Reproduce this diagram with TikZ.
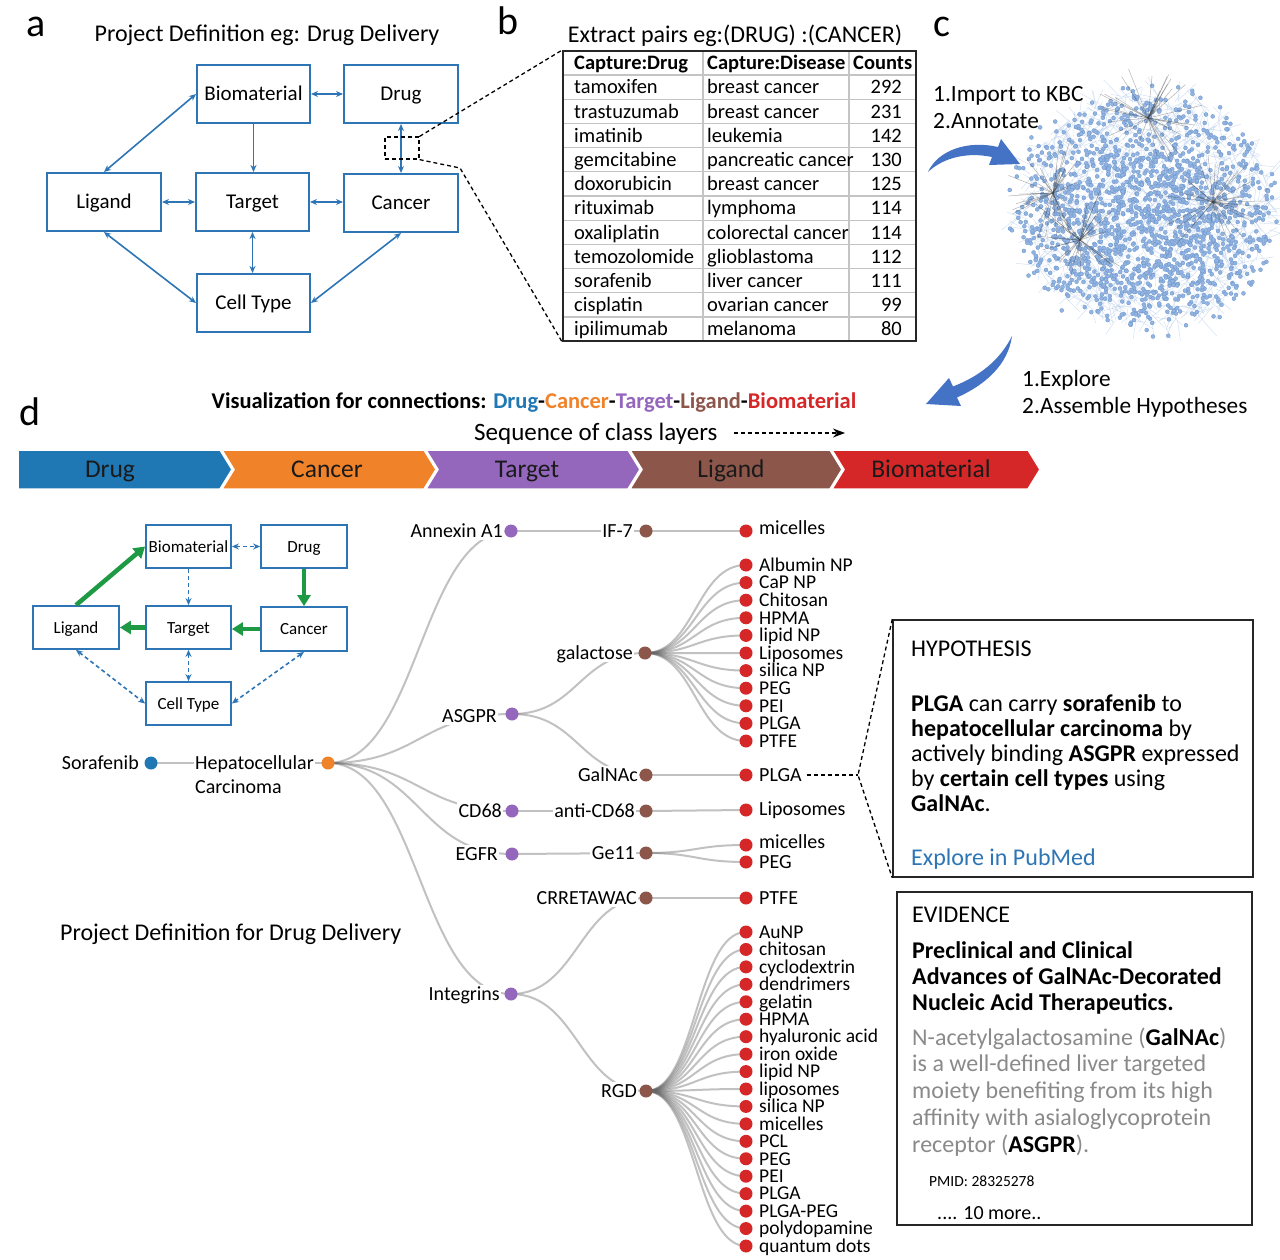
\documentclass[tikz,border=0pt]{standalone}
\usepackage{fontspec}
\setmainfont{Carlito}
\usetikzlibrary{arrows.meta}
\definecolor{boxblue}{HTML}{2E75B6}
\definecolor{cDrug}{HTML}{1F77B4}
\definecolor{cCancer}{HTML}{F0822A}
\definecolor{cTarget}{HTML}{9467BD}
\definecolor{cLigand}{HTML}{8C564B}
\definecolor{cBio}{HTML}{D62728}
\definecolor{arrowblue}{HTML}{4472C4}
\definecolor{gArrow}{HTML}{1E9A44}
\definecolor{evgray}{HTML}{8A8A8A}
\definecolor{tblgray}{HTML}{C4C4C4}
\definecolor{netdot}{HTML}{93B4E0}
\definecolor{netdotline}{HTML}{6A95CE}
\definecolor{netedge}{HTML}{B9CFEC}
\definecolor{pubblue}{HTML}{2E75B6}
\definecolor{chevtext}{HTML}{1A1A1A}
\tikzset{
 f25/.style={inner sep=0pt, font=\fontsize{25.5}{28}\selectfont, text height=16.4pt, text depth=0pt},
 f24/.style={inner sep=0pt, font=\fontsize{24}{26}\selectfont, text height=15.4pt, text depth=0pt},
 f23/.style={inner sep=0pt, font=\fontsize{23.3}{25}\selectfont, text height=15pt, text depth=0pt},
 f22/.style={inner sep=0pt, font=\fontsize{22.5}{25}\selectfont, text height=14.5pt, text depth=0pt},
 f21/.style={inner sep=0pt, font=\fontsize{21}{23}\selectfont, text height=13.5pt, text depth=0pt},
 f20/.style={inner sep=0pt, font=\fontsize{20}{22}\selectfont, text height=12.9pt, text depth=0pt},
 leaf/.style={inner sep=0pt, font=\fontsize{19.5}{21}\selectfont, text height=12.5pt, text depth=0pt},
 f17/.style={inner sep=0pt, font=\fontsize{17}{19}\selectfont, text height=11pt, text depth=0pt},
 f15/.style={inner sep=0pt, font=\fontsize{15.5}{17}\selectfont, text height=10pt, text depth=0pt},
 big/.style={inner sep=0pt, font=\fontsize{40}{44}\selectfont},
 abox/.style={draw=boxblue, line width=2pt, f21, minimum width=113, minimum height=58},
 sbox/.style={draw=boxblue, line width=1.8pt, f17, minimum width=85, minimum height=43},
 barrow/.style={draw=boxblue, line width=1.6pt, {Stealth[length=7pt,width=6pt]}-{Stealth[length=7pt,width=6pt]}},
 barrowone/.style={draw=boxblue, line width=1.6pt, -{Stealth[length=7pt,width=6pt]}},
 dbarrow/.style={barrow, dash pattern=on 4pt off 3pt},
 dbarrowone/.style={barrowone, dash pattern=on 4pt off 3pt},
 garrow/.style={draw=gArrow, line width=4.5pt, -{Triangle[length=11pt,width=13pt]}},
 lnk/.style={draw=black!60, draw opacity=0.4, line width=2pt},
 tdot/.style={circle, fill=#1, inner sep=0pt, minimum size=13pt},
 mask/.style={fill=white, inner xsep=1.5pt, inner ysep=3pt},
 callout/.style={draw=black, line width=1.3pt, dash pattern=on 4pt off 3pt},
 chev/.style={fill=#1, draw=white, line width=1.5pt},
}
\newcommand\treelink[3]{\draw[lnk] (#1) .. controls +(#3,0) and +(-#3,0) .. (#2);}
\begin{document}
\begin{tikzpicture}[x=1pt,y=-1pt]
\useasboundingbox (0,0) rectangle (1280,1260);
\fill[white] (0,0) rectangle (1280,1260);

% ---------- panel labels
\node[big, anchor=base] (la) at (36,37) {a};
\node[big, anchor=base] (lb) at (508,35) {b};
\node[big, anchor=base] (lc) at (942,37) {c};
\node[big, anchor=base] (ld) at (30,425) {d};

% ---------- panel a
\node[f24] (ta) at (267,34) {Project Definition eg: Drug Delivery};
\node[abox] (bio) at (253.5,94) {Biomaterial};
\node[abox, minimum width=114] (drug) at (401,94) {Drug};
\node[abox, minimum width=114] (lig) at (104,202) {Ligand};
\node[abox] (tgt) at (252.5,202) {Target};
\node[abox, minimum width=114] (can) at (401,203) {Cancer};
\node[abox] (cell) at (253.5,303) {Cell Type};
\draw[barrow] (bio.east) -- (drug.west);
\draw[barrowone] (bio.south) -- (bio.south |- tgt.north);
\draw[barrow] (drug.south) -- (can.north);
\draw[barrow] (lig.east) -- (tgt.west);
\draw[barrow] (tgt.east) -- (tgt.east -| can.west);
\draw[barrow] (tgt.south) -- (tgt.south |- cell.north);
\draw[barrow] (lig.north) -- (bio.west);
\draw[barrow] (lig.south) -- (cell.west);
\draw[barrow] (can.south) -- (cell.east);
\node[callout, draw, minimum width=34, minimum height=22, inner sep=0] (zr) at (402,148) {};

% ---------- panel b
\node[f24] (tb) at (735,35) {Extract pairs eg:(DRUG) :(CANCER)};
\foreach \k in {0,...,10}{
  \draw[tblgray, line width=1.2pt] (563,{75+24.2*\k}) -- (916,{75+24.2*\k});
}
\draw[tblgray, line width=1.2pt] (703,51) -- (703,341);
\draw[tblgray, line width=1.2pt] (849,51) -- (849,341);
\node[draw=black!85, line width=1.8pt, minimum width=353, minimum height=290, inner sep=0] (tbl) at (739.5,196) {};
\node[f21, anchor=west, font=\fontsize{20.5}{22}\selectfont\bfseries] (h1) at (574,63) {Capture:Drug};
\node[f21, anchor=west, font=\fontsize{20.5}{22}\selectfont\bfseries] (h2) at (707,63) {Capture:Disease};
\node[f21, anchor=west, font=\fontsize{20.5}{22}\selectfont\bfseries] (h3) at (853,63) {Counts};
\foreach \a/\b/\c [count=\k from 0] in {tamoxifen/breast cancer/292, trastuzumab/breast cancer/231, imatinib/leukemia/142, gemcitabine/pancreatic cancer/130, doxorubicin/breast cancer/125, rituximab/lymphoma/114, oxaliplatin/colorectal cancer/114, temozolomide/glioblastoma/112, sorafenib/liver cancer/111, cisplatin/ovarian cancer/99, ipilimumab/melanoma/80}{
  \node[f21, font=\fontsize{20.5}{22}\selectfont, anchor=west] (ra\k) at (574,{87.1+24.2*\k}) {\a};
  \node[f21, font=\fontsize{20.5}{22}\selectfont, anchor=west] (rb\k) at (707,{87.1+24.2*\k}) {\b};
  \node[f21, font=\fontsize{20.5}{22}\selectfont, anchor=east] (rc\k) at (902,{87.1+24.2*\k}) {\c};
}
\coordinate (bend) at (460,168);
\draw[callout] (zr.north east) -- (tbl.north west);
\draw[callout] (zr.south east) -- (bend) -- (tbl.south west);

% ---------- panel c : network
\begin{scope}
\pgfmathsetseed{4242}
\foreach \k in {1,...,1300}{
  \pgfmathsetmacro\rr{sqrt(rnd)}
  \pgfmathsetmacro\aa{360*rnd}
  \pgfmathsetmacro\dx{44*(rnd-0.5)}
  \pgfmathsetmacro\dy{44*(rnd-0.5)}
  \draw[netedge, line width=0.4pt, opacity=0.7] ({1146+126*\rr*cos(\aa)},{210+116*\rr*sin(\aa)}) -- ++(\dx,\dy);
}
\foreach \k in {1,...,1100}{
  \pgfmathsetmacro\rr{sqrt(rnd)}
  \pgfmathsetmacro\aa{360*rnd}
  \filldraw[fill=netdot, draw=netdotline, line width=0.3pt] ({1146+124*\rr*cos(\aa)},{210+114*\rr*sin(\aa)}) circle (2pt);
}
\foreach \k in {1,...,600}{
  \pgfmathsetmacro\rr{sqrt(rnd)}
  \pgfmathsetmacro\aa{360*rnd}
  \filldraw[fill=netdot, draw=netdotline, line width=0.3pt] ({1140+95*\rr*cos(\aa)},{225+75*\rr*sin(\aa)}) circle (2pt);
}
\foreach \k in {1,...,90}{
  \pgfmathsetmacro\rr{0.95+0.15*rnd}
  \pgfmathsetmacro\aa{360*rnd}
  \filldraw[fill=netdot, draw=netdotline, line width=0.3pt] ({1146+126*\rr*cos(\aa)},{210+118*\rr*sin(\aa)}) circle (2pt);
}
\foreach \hx/\hy in {1053/193, 1213/202, 1080/240, 1148/118}{
  \foreach \k in {1,...,34}{
    \pgfmathsetmacro\aa{360*rnd}
    \pgfmathsetmacro\rr{12+45*rnd}
    \draw[black!75, opacity=0.4, line width=0.5pt] (\hx,\hy) -- ++({\rr*cos(\aa)},{\rr*sin(\aa)});
  }
}
\end{scope}
\node[f23, anchor=west] (imp1) at (933,94.5) {1.Import to KBC};
\node[f23, anchor=west] (imp2) at (933,121.5) {2.Annotate};
\node[f23, anchor=west] (exp1) at (1022,379) {1.Explore};
\node[f23, anchor=west] (exp2) at (1022,406) {2.Assemble Hypotheses};
\fill[arrowblue] (928,172) .. controls (938,150) and (968,140) .. (998,147) -- (1001,139) -- (1020,164) -- (989,165) -- (992,157) .. controls (968,152) and (944,157) .. (928,172) -- cycle;
\fill[arrowblue] (1012,336) .. controls (1008,365) and (985,385) .. (957,397.5) -- (961,406) -- (926,404) -- (949,378) -- (953,386.5) .. controls (980,376) and (1000,360) .. (1012,336) -- cycle;

% ---------- panel d header
\node[f22, font=\fontsize{22.5}{25}\selectfont\bfseries] (vis) at (534,401) {Visualization for connections: \textcolor{cDrug}{Drug}-\textcolor{cCancer}{Cancer}-\textcolor{cTarget}{Target}-\textcolor{cLigand}{Ligand}-\textcolor{cBio}{Biomaterial}};
\node[f25, font=\fontsize{25}{27}\selectfont, anchor=west] (seq) at (474,432) {Sequence of class layers};
\coordinate (seqend) at (845,433);
\draw[black, line width=1.3pt, dash pattern=on 4pt off 3pt, -{Stealth[length=12pt,width=9pt]}] (seq.east) ++(16,1) -- (seqend);

\fill[chev=cDrug] (18,450) -- (220,450) -- (232,469.5) -- (220,489) -- (18,489) -- cycle;
\fill[chev=cCancer] (222,450) -- (424,450) -- (436,469.5) -- (424,489) -- (222,489) -- (234,469.5) -- cycle;
\fill[chev=cTarget] (426,450) -- (628,450) -- (640,469.5) -- (628,489) -- (426,489) -- (438,469.5) -- cycle;
\fill[chev=cLigand] (630,450) -- (830,450) -- (842,469.5) -- (830,489) -- (630,489) -- (642,469.5) -- cycle;
\fill[chev=cBio] (832,450) -- (1028,450) -- (1040,469.5) -- (1028,489) -- (832,489) -- (844,469.5) -- cycle;
\draw[chev=cDrug] (18,450) -- (220,450) -- (232,469.5) -- (220,489) -- (18,489) -- cycle;
\draw[chev=cCancer] (222,450) -- (424,450) -- (436,469.5) -- (424,489) -- (222,489) -- (234,469.5) -- cycle;
\draw[chev=cTarget] (426,450) -- (628,450) -- (640,469.5) -- (628,489) -- (426,489) -- (438,469.5) -- cycle;
\draw[chev=cLigand] (630,450) -- (830,450) -- (842,469.5) -- (830,489) -- (630,489) -- (642,469.5) -- cycle;
\draw[chev=cBio] (832,450) -- (1028,450) -- (1040,469.5) -- (1028,489) -- (832,489) -- (844,469.5) -- cycle;
\node[f25, text=chevtext] (cv1) at (110,469) {Drug};
\node[f25, text=chevtext] (cv2) at (327,469) {Cancer};
\node[f25, text=chevtext] (cv3) at (527,469) {Target};
\node[f25, text=chevtext] (cv4) at (731,469) {Ligand};
\node[f25, text=chevtext] (cv5) at (931,469) {Biomaterial};

% ---------- panel d small schema
\node[sbox] (sbio) at (188.5,546.5) {Biomaterial};
\node[sbox, minimum width=86] (sdrug) at (304,546.5) {Drug};
\node[sbox, minimum width=86] (slig) at (76,627.5) {Ligand};
\node[sbox] (stgt) at (188.5,627.5) {Target};
\node[sbox, minimum width=86, minimum height=44] (scan) at (304,629) {Cancer};
\node[sbox] (scell) at (188.5,703.5) {Cell Type};
\draw[dbarrow] (sbio.east) -- (sdrug.west);
\draw[dbarrowone] (sbio.south) -- (stgt.north);
\draw[dbarrow] (stgt.south) -- (scell.north);
\draw[dbarrow] (slig.south) -- (scell.west);
\draw[dbarrow] (scan.south) -- (scell.east);
\draw[garrow] (sdrug.south) -- (scan.north);
\draw[garrow] (scan.west) -- (scan.west -| stgt.east);
\draw[garrow] (stgt.west) -- (slig.east);
\draw[garrow] (slig.north) -- (sbio.west);

\node[f24, anchor=west] (pd) at (60,933) {Project Definition for Drug Delivery};

% ---------- tree
\coordinate (sor) at (151,763);
\coordinate (hcc) at (328,763);
\coordinate (anx) at (511,531);
\coordinate (asg) at (512,714);
\coordinate (cd68) at (512,811);
\coordinate (egfr) at (512,854);
\coordinate (itg) at (511,994);
\coordinate (if7) at (646,531);
\coordinate (gal) at (645,653);
\coordinate (gnac) at (646,775);
\coordinate (acd) at (646,811);
\coordinate (ge11) at (646,853);
\coordinate (crr) at (646,898);
\coordinate (rgd) at (646,1091);
\coordinate (mic1) at (746,531);
\coordinate (plga1) at (746,775);
\coordinate (lip1) at (746,810);
\coordinate (mic2) at (746,845);
\coordinate (peg2) at (746,862);
\coordinate (ptfe2) at (746,898);

\draw[lnk] (sor) -- (hcc);
\treelink{hcc}{anx}{91}
\treelink{hcc}{asg}{92}
\treelink{hcc}{cd68}{92}
\treelink{hcc}{egfr}{92}
\treelink{hcc}{itg}{91}
\treelink{anx}{if7}{67}
\treelink{asg}{gal}{66}
\treelink{asg}{gnac}{67}
\treelink{cd68}{acd}{67}
\treelink{egfr}{ge11}{67}
\treelink{itg}{crr}{67}
\treelink{itg}{rgd}{67}
\treelink{if7}{mic1}{50}
\treelink{gnac}{plga1}{50}
\treelink{acd}{lip1}{50}
\treelink{ge11}{mic2}{50}
\treelink{ge11}{peg2}{50}
\treelink{crr}{ptfe2}{50}

\foreach \t [count=\i from 0] in {Albumin NP, CaP NP, Chitosan, HPMA, lipid NP, Liposomes, silica NP, PEG, PEI, PLGA, PTFE}{
  \pgfmathsetmacro\yy{565+17.6*\i}
  \coordinate (ga\i) at (746,\yy);
  \treelink{gal}{ga\i}{50}
  \node[tdot=cBio] (gad\i) at (ga\i) {};
  \node[leaf, anchor=west] (gal\i) at (759,\yy) {\t};
}
\foreach \t [count=\i from 0] in {AuNP, chitosan, cyclodextrin, dendrimers, gelatin, HPMA, hyaluronic acid, iron oxide, lipid NP, liposomes, silica NP, micelles, PCL, PEG, PEI, PLGA, PLGA-PEG, polydopamine, quantum dots}{
  \pgfmathsetmacro\yy{932+17.444*\i}
  \coordinate (rg\i) at (746,\yy);
  \treelink{rgd}{rg\i}{50}
  \node[tdot=cBio] (rgdd\i) at (rg\i) {};
  \node[leaf, anchor=west] (rgl\i) at (759,\yy) {\t};
}

\node[tdot=cDrug] (dsor) at (sor) {};
\node[tdot=cCancer] (dhcc) at (hcc) {};
\foreach \n in {anx,asg,cd68,egfr,itg}{ \node[tdot=cTarget] (d\n) at (\n) {}; }
\foreach \n in {if7,gal,gnac,acd,ge11,crr,rgd}{ \node[tdot=cLigand] (d\n) at (\n) {}; }
\foreach \n in {mic1,plga1,lip1,mic2,peg2,ptfe2}{ \node[tdot=cBio] (d\n) at (\n) {}; }

\node[f20, anchor=east] (lsor) at (139,763) {Sorafenib};
\node[f20, mask, anchor=west] (lhcc) at (193.5,763) {Hepatocellular};
\node[f20, anchor=west] (lcar) at (195,787) {Carcinoma};
\node[f20, mask, anchor=east] (lanx) at (504.5,531) {Annexin A1};
\node[f20, mask, anchor=east] (lasg) at (498.5,716) {ASGPR};
\node[f20, mask, anchor=east] (lcd68) at (503.5,811) {CD68};
\node[f20, mask, anchor=east] (legfr) at (499.5,854) {EGFR};
\node[f20, mask, anchor=east] (litg) at (501.5,994) {Integrins};
\node[f20, mask, anchor=east] (lif7) at (634.5,531) {IF-7};
\node[f20, mask, anchor=east] (lgal) at (634.5,653) {galactose};
\node[f20, mask, anchor=east] (lgnac) at (639.5,775) {GalNAc};
\node[f20, mask, anchor=east] (lacd) at (636.5,811) {anti-CD68};
\node[f20, mask, anchor=east] (lge11) at (636.5,853) {Ge11};
\node[f20, mask, anchor=east] (lcrr) at (638.5,898) {CRRETAWAC};
\node[f20, mask, anchor=east] (lrgd) at (638.5,1091) {RGD};
\node[f20, anchor=west] (lmic1) at (759,528) {micelles};
\node[f20, anchor=west] (lplga1) at (759,775) {PLGA};
\node[f20, anchor=west] (llip1) at (759,809) {Liposomes};
\node[f20, anchor=west] (lmic2) at (759,842) {micelles};
\node[f20, anchor=west] (lpeg2) at (759,862) {PEG};
\node[f20, anchor=west] (lptfe2) at (759,898) {PTFE};

% ---------- hypothesis box
\node[draw=black!85, line width=1.5pt, minimum width=360, minimum height=257, inner sep=0] (hyp) at (1073,748.5) {};
\coordinate (brk) at (858,775);
\draw[callout, shorten <=5pt] (lplga1.east) -- (brk);
\draw[callout] (hyp.north west) -- (brk) -- (hyp.south west);
\node[f24, anchor=west] (hy0) at (911,649) {HYPOTHESIS};
\node[f24, anchor=west] (hy1) at (911,704) {\textbf{PLGA} can carry \textbf{sorafenib} to};
\node[f24, anchor=west] (hy2) at (911,729) {\textbf{hepatocellular carcinoma} by};
\node[f24, anchor=west] (hy3) at (911,754) {actively binding \textbf{ASGPR} expressed};
\node[f24, anchor=west] (hy4) at (911,779) {by \textbf{certain cell types} using};
\node[f24, anchor=west] (hy5) at (911,804) {\textbf{GalNAc}.};
\node[f24, anchor=west, text=pubblue] (hy6) at (911,858) {Explore in PubMed};

% ---------- evidence box
\node[draw=black!85, line width=1.5pt, minimum width=355, minimum height=333, inner sep=0] (ev) at (1074.5,1058.5) {};
\node[f24, anchor=west] (ev0) at (912,915) {EVIDENCE};
\node[f24, anchor=west, font=\fontsize{24}{26}\selectfont\bfseries] (ev1) at (912,951) {Preclinical and Clinical};
\node[f24, anchor=west, font=\fontsize{24}{26}\selectfont\bfseries] (ev2) at (912,977) {Advances of GalNAc-Decorated};
\node[f24, anchor=west, font=\fontsize{24}{26}\selectfont\bfseries] (ev3) at (912,1003) {Nucleic Acid Therapeutics.};
\node[f24, anchor=west, text=evgray] (ev4) at (912,1038) {N-acetylgalactosamine (\textcolor{black}{\textbf{GalNAc}})};
\node[f24, anchor=west, text=evgray] (ev5) at (912,1064) {is a well-defined liver targeted};
\node[f24, anchor=west, text=evgray] (ev6) at (912,1091) {moiety benefiting from its high};
\node[f24, anchor=west, text=evgray] (ev7) at (912,1118) {affinity with asialoglycoprotein};
\node[f24, anchor=west, text=evgray] (ev8) at (912,1145) {receptor (\textcolor{black}{\textbf{ASGPR}}).};
\node[f15, anchor=west] (ev9) at (929,1181) {PMID: 28325278};
\node[f20, anchor=west] (ev10) at (937,1213) {.... 10 more..};
\end{tikzpicture}
\end{document}
